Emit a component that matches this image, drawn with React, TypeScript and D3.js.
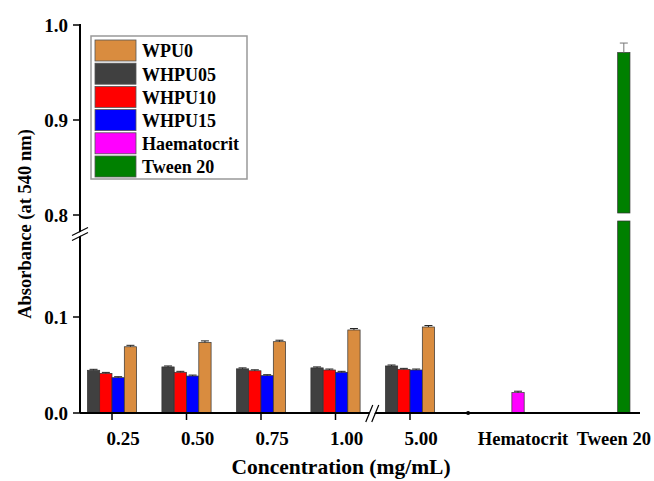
import * as d3 from 'd3'

// group labels on the x axis (numeric concentrations)
const concLabels = ['0.25', '0.50', '0.75', '1.00', '5.00']
const concSlots = [1, 2, 3, 4, 5]

const seriesNames = ['WHPU05', 'WHPU10', 'WHPU15', 'WPU0']
const seriesColors = ['#404040', '#ff0000', '#0000ff', '#d98c3f']

// absorbance per concentration, rows follow seriesNames
const whpu05 = [0.0445, 0.048, 0.046, 0.047, 0.049]
const whpu10 = [0.0413, 0.0424, 0.044, 0.0448, 0.0455]
const whpu15 = [0.0368, 0.0385, 0.0389, 0.0424, 0.0448]
const wpu0 = [0.069, 0.0736, 0.0743, 0.0865, 0.0896]
const seriesValues = [whpu05, whpu10, whpu15, wpu0]
const seriesErrors = [0.001, 0.001, 0.001, 0.0015]

// controls
const controlLabels = ['Hematocrit', 'Tween 20']
const controlSlots = [6.45, 7.87]
const controlValues = [0.0212, 0.971]
const controlErrors = [0.0015, 0.01]
const controlColors = ['#ff00ff', '#008000']

const legendNames = ['WPU0', 'WHPU05', 'WHPU10', 'WHPU15', 'Haematocrit', 'Tween 20']
const legendColors = ['#d98c3f', '#404040', '#ff0000', '#0000ff', '#ff00ff', '#008000']

const lowTicks = [0.0, 0.1]
const highTicks = [0.8, 0.9, 1.0]

const font = '"Liberation Serif", "Times New Roman", serif'

export default function App() {
  const W = 654
  const H = 481
  const axisX = 80
  const axisY = 413
  const axisRight = 640

  const x = d3.scaleLinear().domain([1, 5]).range([112, 410])
  const yLow = d3.scaleLinear().domain([0, 0.1]).range([axisY, 317])
  const yHigh = d3.scaleLinear().domain([0.8, 1.0]).range([215, 25])
  const barW = 12.3

  const breakY = yLow(0.187)
  const breakX = x(4.5)

  const errBar = (cx: number, top: number, err: number, yS: (v: number) => number, color = '#222') => (
    <g stroke={color} strokeWidth={1}>
      <line x1={cx} x2={cx} y1={yS(top)} y2={yS(top + err)} />
      <line x1={cx - 4} x2={cx + 4} y1={yS(top + err)} y2={yS(top + err)} />
    </g>
  )

  return (
    <svg width={W} height={H} style={{ position: 'absolute', left: 0, top: 0, background: '#fff' }}>
      {/* grouped bars */}
      {concSlots.map((s, gi) =>
        seriesValues.map((vals, si) => {
          const cx = x(s) + (si - 1.5) * barW
          return (
            <g key={`${gi}-${si}`}>
              <rect x={cx - barW / 2} y={yLow(vals[gi])} width={barW} height={axisY - yLow(vals[gi])}
                fill={seriesColors[si]} stroke="#333" strokeWidth={0.7} />
              {errBar(cx, vals[gi], seriesErrors[si], yLow)}
            </g>
          )
        })
      )}

      {/* hematocrit */}
      <rect x={x(controlSlots[0]) - barW / 2} y={yLow(controlValues[0])} width={barW}
        height={axisY - yLow(controlValues[0])} fill={controlColors[0]} stroke="#333" strokeWidth={0.7} />
      {errBar(x(controlSlots[0]), controlValues[0], controlErrors[0], yLow)}

      {/* tween 20, split across the axis break */}
      <rect x={x(controlSlots[1]) - barW / 2} y={yHigh(controlValues[1])} width={barW}
        height={yHigh(0.8) - 2 - yHigh(controlValues[1])} fill={controlColors[1]} stroke="#333" strokeWidth={0.7} />
      <rect x={x(controlSlots[1]) - barW / 2} y={yLow(0.2)} width={barW}
        height={axisY - yLow(0.2)} fill={controlColors[1]} stroke="#333" strokeWidth={0.7} />
      {errBar(x(controlSlots[1]), controlValues[1], controlErrors[1], yHigh, '#777')}

      {/* y axis */}
      <line x1={axisX} x2={axisX} y1={yHigh(1.0) - 1} y2={axisY} stroke="#000" strokeWidth={2} />
      {highTicks.map(t => (
        <g key={`h${t}`}>
          <line x1={axisX - 7} x2={axisX} y1={yHigh(t)} y2={yHigh(t)} stroke="#000" strokeWidth={1.5} />
          <text x={axisX - 12} y={yHigh(t)} dy="0.35em" textAnchor="end" fontFamily={font}
            fontWeight="bold" fontSize={19}>{t.toFixed(1)}</text>
        </g>
      ))}
      {lowTicks.map(t => (
        <g key={`l${t}`}>
          <line x1={axisX - 7} x2={axisX} y1={yLow(t)} y2={yLow(t)} stroke="#000" strokeWidth={1.5} />
          <text x={axisX - 12} y={yLow(t)} dy="0.35em" textAnchor="end" fontFamily={font}
            fontWeight="bold" fontSize={19}>{t.toFixed(1)}</text>
        </g>
      ))}
      {/* y axis break */}
      <polygon points={`${axisX - 7},${breakY + 2} ${axisX + 7},${breakY - 5} ${axisX + 7},${breakY - 1} ${axisX - 7},${breakY + 6}`} fill="#fff" />
      <line x1={axisX - 8} x2={axisX + 8} y1={breakY + 2} y2={breakY - 6} stroke="#000" strokeWidth={1.2} />
      <line x1={axisX - 8} x2={axisX + 8} y1={breakY + 7} y2={breakY - 1} stroke="#000" strokeWidth={1.2} />

      {/* x axis */}
      <line x1={axisX} x2={axisRight} y1={axisY} y2={axisY} stroke="#000" strokeWidth={2} />
      {concSlots.map((s, i) => (
        <g key={`xt${i}`}>
          <line x1={x(s)} x2={x(s)} y1={axisY} y2={axisY + 7} stroke="#000" strokeWidth={1.5} />
          <text x={x(s) + 11} y={axisY + 32} textAnchor="middle" fontFamily={font} fontWeight="bold"
            fontSize={19}>{concLabels[i]}</text>
        </g>
      ))}
      {controlLabels.map((l, i) => (
        <text key={l} x={x(controlSlots[i]) + (i === 0 ? 5 : -10)} y={axisY + 32} textAnchor="middle"
          fontFamily={font} fontWeight="bold" fontSize={18.5}>{l}</text>
      ))}
      <circle cx={x(5.78)} cy={axisY} r={2} fill="#000" />
      {/* x axis break */}
      <polygon points={`${breakX - 6},${axisY + 8} ${breakX},${axisY - 8} ${breakX + 5},${axisY - 8} ${breakX - 1},${axisY + 8}`} fill="#fff" />
      <line x1={breakX - 7} x2={breakX} y1={axisY + 9} y2={axisY - 8} stroke="#000" strokeWidth={1.2} />
      <line x1={breakX - 1} x2={breakX + 6} y1={axisY + 9} y2={axisY - 8} stroke="#000" strokeWidth={1.2} />

      {/* axis titles */}
      <text x={341} y={474} textAnchor="middle" fontFamily={font} fontWeight="bold" fontSize={21.5}>
        Concentration (mg/mL)
      </text>
      <text transform={`translate(31,224) rotate(-90)`} textAnchor="middle" fontFamily={font}
        fontWeight="bold" fontSize={18.5}>Absorbance (at 540 nm)</text>

      {/* legend */}
      <rect x={91} y={36} width={156} height={143} fill="#fff" stroke="#999" strokeWidth={1.5} />
      {legendNames.map((n, i) => (
        <g key={n}>
          <rect x={95} y={40 + i * 23.2} width={41} height={21} fill={legendColors[i]} stroke="#555" strokeWidth={0.8} />
          <text x={142} y={51 + i * 23.2} dy="0.35em" fontFamily={font} fontWeight="bold" fontSize={18}>{n}</text>
        </g>
      ))}
    </svg>
  )
}
